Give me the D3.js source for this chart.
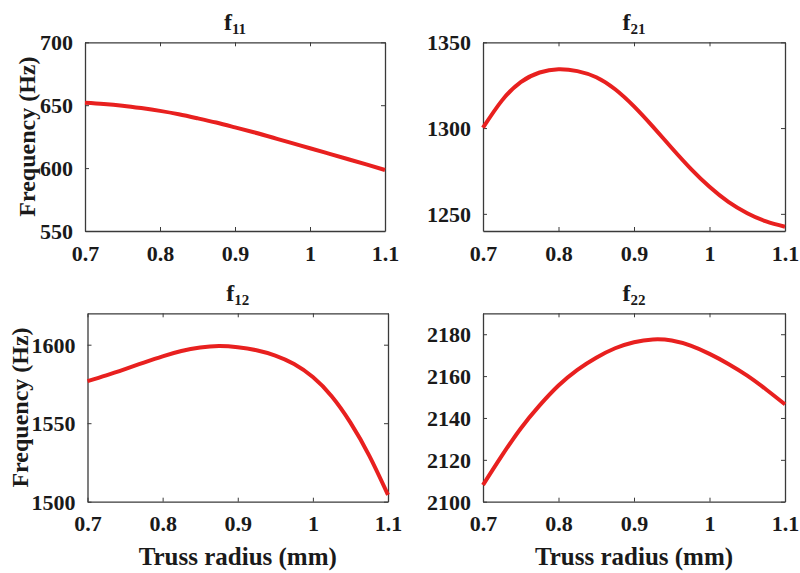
<!DOCTYPE html>
<html>
<head>
<meta charset="utf-8">
<script src="https://cdn.jsdelivr.net/npm/d3@7"></script>
<style>
  html, body { margin: 0; padding: 0; background: #fff; }
  svg { display: block; }
  text { font-family: "Liberation Serif", "Times New Roman", serif; font-weight: bold; fill: #1a1a1a; }
</style>
</head>
<body>
<svg id="chart" width="800" height="573"></svg>
<script>
// ---- data ----
const radius = [0.700, 0.725, 0.750, 0.775, 0.800, 0.825, 0.850, 0.875, 0.900,
                0.925, 0.950, 0.975, 1.000, 1.025, 1.050, 1.075, 1.100];

const f11 = [652.0, 651.0, 649.6, 647.7, 645.5, 642.8, 639.6, 636.2, 632.4,
             628.5, 624.3, 620.0, 615.8, 611.5, 607.2, 602.9, 598.5];
const f21 = [1300.2, 1316.0, 1326.8, 1332.4, 1334.3, 1333.2, 1329.6, 1322.6, 1312.6,
             1300.8, 1288.4, 1276.4, 1265.8, 1257.0, 1250.4, 1245.6, 1242.5];
const f12 = [1576.8, 1580.5, 1584.5, 1588.6, 1592.6, 1596.0, 1598.2, 1599.1, 1598.4,
             1596.5, 1593.1, 1587.7, 1579.4, 1567.2, 1550.4, 1529.4, 1504.4];
const f22 = [2108.0, 2122.0, 2135.0, 2146.0, 2155.5, 2163.0, 2168.8, 2173.3, 2176.2,
             2177.5, 2177.0, 2174.5, 2170.6, 2165.8, 2160.2, 2153.6, 2146.5];

const xTicks = [0.7, 0.8, 0.9, 1.0, 1.1];
const xTickLabels = ["0.7", "0.8", "0.9", "1", "1.1"];

const yTicks11 = [550, 600, 650, 700];
const yTicks21 = [1250, 1300, 1350];
const yTicks12 = [1500, 1550, 1600];
const yTicks22 = [2100, 2120, 2140, 2160, 2180];

const yDomain11 = [550, 700];
const yDomain21 = [1240, 1350];
const yDomain12 = [1500, 1620];
const yDomain22 = [2100, 2190];

const titleSubs = ["11", "21", "12", "22"];
const yLabel = "Frequency (Hz)";
const xLabel = "Truss radius (mm)";

// ---- layout ----
const panels = [
  { values: f11, yDomain: yDomain11, yTicks: yTicks11, sub: titleSubs[0],
    box: { l: 85, r: 385, t: 42.3, b: 231 }, ylab: true, ylabX: 35, xlab: false },
  { values: f21, yDomain: yDomain21, yTicks: yTicks21, sub: titleSubs[1],
    box: { l: 483, r: 785, t: 42.3, b: 231 }, ylab: false, xlab: false },
  { values: f12, yDomain: yDomain12, yTicks: yTicks12, sub: titleSubs[2],
    box: { l: 87.5, r: 388, t: 313.3, b: 501.7 }, ylab: true, ylabX: 28, xlab: true },
  { values: f22, yDomain: yDomain22, yTicks: yTicks22, sub: titleSubs[3],
    box: { l: 483, r: 785, t: 313.3, b: 501.7 }, ylab: false, xlab: true }
];

const svg = d3.select("#chart");
const lineColor = "#e8201f";
const axisColor = "#3a3a3a";

panels.forEach(p => {
  const B = p.box;
  const x = d3.scaleLinear().domain([0.7, 1.1]).range([B.l, B.r]);
  const y = d3.scaleLinear().domain(p.yDomain).range([B.b, B.t]);
  const g = svg.append("g");

  g.append("rect").attr("x", B.l).attr("y", B.t)
    .attr("width", B.r - B.l).attr("height", B.b - B.t)
    .attr("fill", "#fff");

  const fmtX = d => xTickLabels[xTicks.indexOf(d)];

  const gb = g.append("g").attr("transform", `translate(0,${B.b})`)
    .call(d3.axisBottom(x).tickValues(xTicks).tickFormat(fmtX).tickSizeInner(-4).tickSizeOuter(0).tickPadding(14));
  const gt = g.append("g").attr("transform", `translate(0,${B.t})`)
    .call(d3.axisTop(x).tickValues(xTicks).tickFormat("").tickSizeInner(-4).tickSizeOuter(0));
  const gl = g.append("g").attr("transform", `translate(${B.l},0)`)
    .call(d3.axisLeft(y).tickValues(p.yTicks).tickFormat(d3.format("d")).tickSizeInner(-4).tickSizeOuter(0).tickPadding(12));
  const gr = g.append("g").attr("transform", `translate(${B.r},0)`)
    .call(d3.axisRight(y).tickValues(p.yTicks).tickFormat("").tickSizeInner(-4).tickSizeOuter(0));

  [gb, gt, gl, gr].forEach(a => {
    a.selectAll("path.domain").attr("stroke", axisColor).attr("stroke-width", 1.3);
    a.selectAll(".tick line").attr("stroke", axisColor).attr("stroke-width", 1);
    a.selectAll(".tick text").attr("font-size", 22).attr("font-family", null).attr("fill", "#1a1a1a");
  });
  gb.selectAll(".tick text").attr("dy", "0.71em");
  gl.selectAll(".tick text").attr("dy", "0.34em");

  const line = d3.line()
    .x((d, i) => x(radius[i]))
    .y(d => y(d))
    .curve(d3.curveNatural);
  g.append("path").datum(p.values)
    .attr("d", line)
    .attr("fill", "none")
    .attr("stroke", lineColor)
    .attr("stroke-width", 4)
    .attr("stroke-linecap", "butt");

  const cx = (B.l + B.r) / 2;
  const t = g.append("text").attr("x", cx).attr("y", B.t - 12.5)
    .attr("text-anchor", "middle").attr("font-size", 24);
  t.append("tspan").text("f");
  t.append("tspan").attr("font-size", 15).attr("dy", 4).text(p.sub);

  if (p.ylab) {
    g.append("text")
      .attr("transform", `translate(${p.ylabX},${(B.t + B.b) / 2}) rotate(-90)`)
      .attr("text-anchor", "middle").attr("font-size", 24).text(yLabel);
  }
  if (p.xlab) {
    g.append("text").attr("x", cx).attr("y", 565)
      .attr("text-anchor", "middle").attr("font-size", 25).text(xLabel);
  }
});
</script>
</body>
</html>
